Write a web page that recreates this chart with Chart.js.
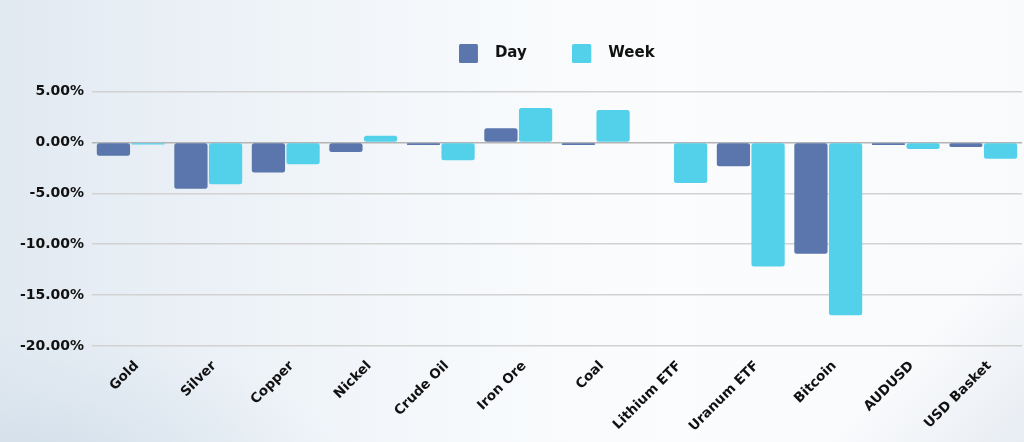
<!DOCTYPE html>
<html>
<head>
<meta charset="utf-8">
<script src="https://cdn.jsdelivr.net/npm/chart.js@4.4.1/dist/chart.umd.min.js"></script>
<style>
  html, body { margin: 0; padding: 0; }
  body {
    width: 1024px; height: 442px; overflow: hidden;
    background:
      radial-gradient(ellipse 320px 150px at 30px 480px, rgba(196,212,226,0.6) 0%, rgba(210,223,234,0.4) 55%, rgba(226,234,242,0) 100%),
      linear-gradient(135deg, rgba(255,255,255,0) 86%, rgba(226,232,239,0.75) 100%),
      linear-gradient(90deg, #e1e9f1 0%, #eaf0f6 18%, #f5f8fb 42%, #fbfcfd 65%, #f9fafc 100%);
  }
  #wrap { position: relative; width: 1024px; height: 442px; }
</style>
</head>
<body>
<div id="wrap"><canvas id="c" width="1024" height="442"></canvas></div>
<script>
const categories = ['Gold', 'Silver', 'Copper', 'Nickel', 'Crude Oil', 'Iron Ore', 'Coal', 'Lithium ETF', 'Uranum ETF', 'Bitcoin', 'AUDUSD', 'USD Basket'];
const dayValues  = [-1.3, -4.55, -2.95, -0.95, -0.25, 1.4, -0.25, 0, -2.35, -10.95, -0.25, -0.45];
const weekValues = [-0.2, -4.1, -2.15, 0.65, -1.75, 3.37, 3.18, -3.98, -12.2, -16.97, -0.65, -1.6];
const seriesNames = ['Day', 'Week'];
const yTicks = [-20, -15, -10, -5, 0, 5];

const dayColor = '#5a76ad';
const weekColor = '#53d1eb';

function swatch(color) {
  const cv = document.createElement('canvas');
  cv.width = 29; cv.height = 19;
  const g = cv.getContext('2d');
  g.fillStyle = color;
  g.beginPath();
  if (g.roundRect) g.roundRect(0, 0, 19, 19, 1.5); else g.rect(0, 0, 19, 19);
  g.fill();
  return cv;
}

const legendSpacer = {
  id: 'legendSpacer',
  beforeInit(chart) {
    const orig = chart.legend.fit;
    chart.legend.fit = function () {
      orig.bind(chart.legend)();
      this.height += 20.5;
    };
  }
};

const FONT = "'DejaVu Sans', sans-serif";

new Chart(document.getElementById('c'), {
  type: 'bar',
  data: {
    labels: categories,
    datasets: [
      { label: seriesNames[0], data: dayValues, backgroundColor: dayColor, pointStyle: swatch(dayColor) },
      { label: seriesNames[1], data: weekValues, backgroundColor: weekColor, pointStyle: swatch(weekColor) }
    ]
  },
  options: {
    responsive: false,
    animation: false,
    devicePixelRatio: 1,
    layout: { padding: { left: 0, right: 2, top: 0, bottom: 0 } },
    datasets: {
      bar: {
        categoryPercentage: 0.894,
        barPercentage: 0.96,
        borderRadius: 2.5,
        borderSkipped: false
      }
    },
    plugins: {
      legend: {
        position: 'top',
        fullSize: false,
        labels: {
          usePointStyle: true,
          pointStyleWidth: 28,
          padding: 46,
          color: '#111111',
          font: { family: FONT, size: 15, weight: 'bold' }
        }
      },
      tooltip: { enabled: false }
    },
    scales: {
      x: {
        afterFit(scale) { scale.height = 96; },
        grid: { display: false, drawTicks: false },
        border: { display: false },
        ticks: {
          color: '#111111',
          font: { family: FONT, size: 13.5, weight: 'bold' },
          minRotation: 45,
          maxRotation: 45,
          autoSkip: false,
          padding: 12,
          labelOffset: 6
        }
      },
      y: {
        min: yTicks[0],
        max: yTicks[yTicks.length - 1],
        afterFit(scale) { scale.width = 92; },
        afterBuildTicks(scale) { scale.ticks = yTicks.map(v => ({ value: v })); },
        grid: {
          drawTicks: false,
          lineWidth: 1.5,
          color: (ctx) => (ctx.tick && ctx.tick.value === 0) ? '#b4b4b4' : '#d2d2d2'
        },
        border: { display: false },
        ticks: {
          color: '#111111',
          font: { family: FONT, size: 14, weight: 'bold' },
          padding: 8,
          callback: (v) => Number(v).toFixed(2) + '%'
        }
      }
    }
  },
  plugins: [legendSpacer]
});
</script>
</body>
</html>
